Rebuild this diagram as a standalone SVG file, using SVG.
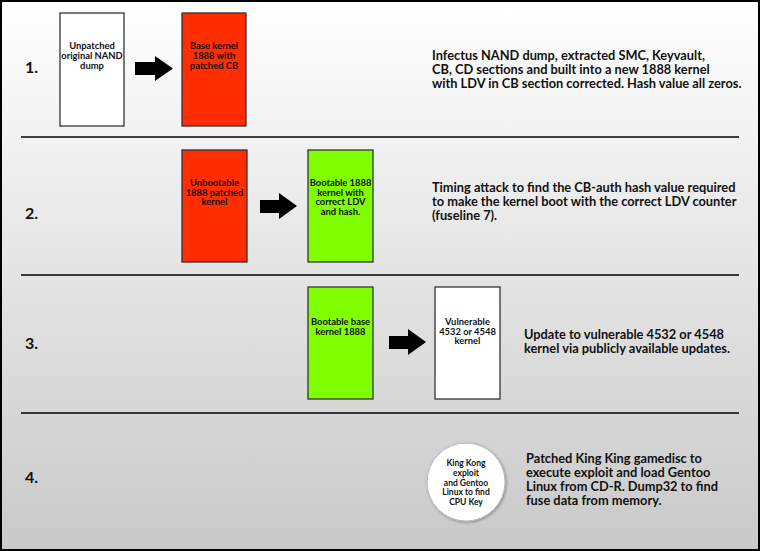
<svg xmlns="http://www.w3.org/2000/svg" width="760" height="551" viewBox="0 0 760 551">
<defs>
<linearGradient id="bg" x1="0" y1="0" x2="0" y2="1">
<stop offset="0" stop-color="#ffffff"/>
<stop offset="1" stop-color="#c9c9c9"/>
</linearGradient>
<filter id="sh" x="-30%" y="-30%" width="160%" height="160%">
<feGaussianBlur in="SourceAlpha" stdDeviation="1.5"/>
<feOffset dx="1" dy="1"/>
<feComponentTransfer><feFuncA type="linear" slope="0.35"/></feComponentTransfer>
<feMerge><feMergeNode/><feMergeNode in="SourceGraphic"/></feMerge>
</filter>
</defs>
<style>
.box{stroke:#333;stroke-width:1.3}
.white{fill:#fff}
.red{fill:#ff2d00}
.green{fill:#80ff00}
.sep{stroke:#000;stroke-width:1.5}
.arrow{fill:#000}
text{font-family:Lato,"Open Sans","Liberation Sans",sans-serif;font-weight:bold;fill:#111}
.num{font-size:16px}
.lbl{font-size:9.4px;text-anchor:middle}
.clbl{font-size:8.5px;text-anchor:middle}
.desc{font-size:12.8px}
</style>
<rect x="1" y="1" width="758" height="549" fill="url(#bg)" stroke="#000" stroke-width="2"/>
<g id="separators">
<line class="sep" x1="21" y1="137" x2="739" y2="137"/>
<line class="sep" x1="21" y1="275" x2="739" y2="275"/>
<line class="sep" x1="21" y1="413" x2="739" y2="413"/>
</g>
<g id="numbers">
<text class="num" x="25" y="73">1.</text>
<text class="num" x="25" y="219">2.</text>
<text class="num" x="25" y="349">3.</text>
<text class="num" x="25" y="483">4.</text>
</g>
<g id="n1">
<rect class="box white" x="60" y="13" width="64" height="113"/>
<text class="lbl" x="92" y="49">Unpatched</text>
<text class="lbl" x="92" y="59">original NAND</text>
<text class="lbl" x="92" y="68.5">dump</text>
</g>
<g id="n2">
<rect class="box red" x="182" y="13" width="64" height="113"/>
<text class="lbl" x="214" y="49">Base kernel</text>
<text class="lbl" x="214" y="59">1888 with</text>
<text class="lbl" x="214" y="68.5">patched CB</text>
</g>
<g id="n3">
<rect class="box red" x="182" y="150" width="65" height="112"/>
<text class="lbl" x="214.5" y="186">Unbootable</text>
<text class="lbl" x="214.5" y="195.5">1888 patched</text>
<text class="lbl" x="214.5" y="205">kernel</text>
</g>
<g id="n4">
<rect class="box green" x="308" y="150" width="65" height="112"/>
<text class="lbl" x="340.5" y="186">Bootable 1888</text>
<text class="lbl" x="340.5" y="195.5">kernel with</text>
<text class="lbl" x="340.5" y="205">correct LDV</text>
<text class="lbl" x="340.5" y="214.5">and hash.</text>
</g>
<g id="n5">
<rect class="box green" x="308" y="287" width="65" height="112"/>
<text class="lbl" x="340.5" y="325">Bootable base</text>
<text class="lbl" x="340.5" y="334.5">kernel 1888</text>
</g>
<g id="n6">
<rect class="box white" x="435" y="287" width="65" height="112"/>
<text class="lbl" x="467.5" y="325">Vulnerable</text>
<text class="lbl" x="467.5" y="334.5">4532 or 4548</text>
<text class="lbl" x="467.5" y="344">kernel</text>
</g>
<g id="n7">
<circle cx="466" cy="482" r="39" fill="#fff" stroke="#bbb" stroke-width="1" filter="url(#sh)"/>
<text class="clbl" x="466" y="466">King Kong</text>
<text class="clbl" x="466" y="476">exploit</text>
<text class="clbl" x="466" y="485.5">and Gentoo</text>
<text class="clbl" x="466" y="495">Linux to find</text>
<text class="clbl" x="466" y="504.5">CPU Key</text>
</g>
<g id="connectors">
<polygon class="arrow" points="135,62 155,62 155,56 173,68.5 155,81 155,75 135,75"/>
<polygon class="arrow" points="260,200 279,200 279,193 297,206 279,219 279,213 260,213"/>
<polygon class="arrow" points="389,336 408,336 408,329 426,342 408,355 408,349 389,349"/>
</g>
<g id="descriptions">
<text class="desc" x="432" y="60">Infectus NAND dump, extracted SMC, Keyvault,</text>
<text class="desc" x="432" y="74">CB, CD sections and built into a new 1888 kernel</text>
<text class="desc" x="432" y="88">with LDV in CB section corrected. Hash value all zeros.</text>
<text class="desc" x="432" y="192">Timing attack to find the CB-auth hash value required</text>
<text class="desc" x="432" y="206">to make the kernel boot with the correct LDV counter</text>
<text class="desc" x="432" y="220">(fuseline 7).</text>
<text class="desc" x="524" y="339">Update to vulnerable 4532 or 4548</text>
<text class="desc" x="524" y="353">kernel via publicly available updates.</text>
<text class="desc" x="526" y="463">Patched King King gamedisc to</text>
<text class="desc" x="526" y="477">execute exploit and load Gentoo</text>
<text class="desc" x="526" y="491">Linux from CD-R. Dump32 to find</text>
<text class="desc" x="526" y="505">fuse data from memory.</text>
</g>
</svg>
